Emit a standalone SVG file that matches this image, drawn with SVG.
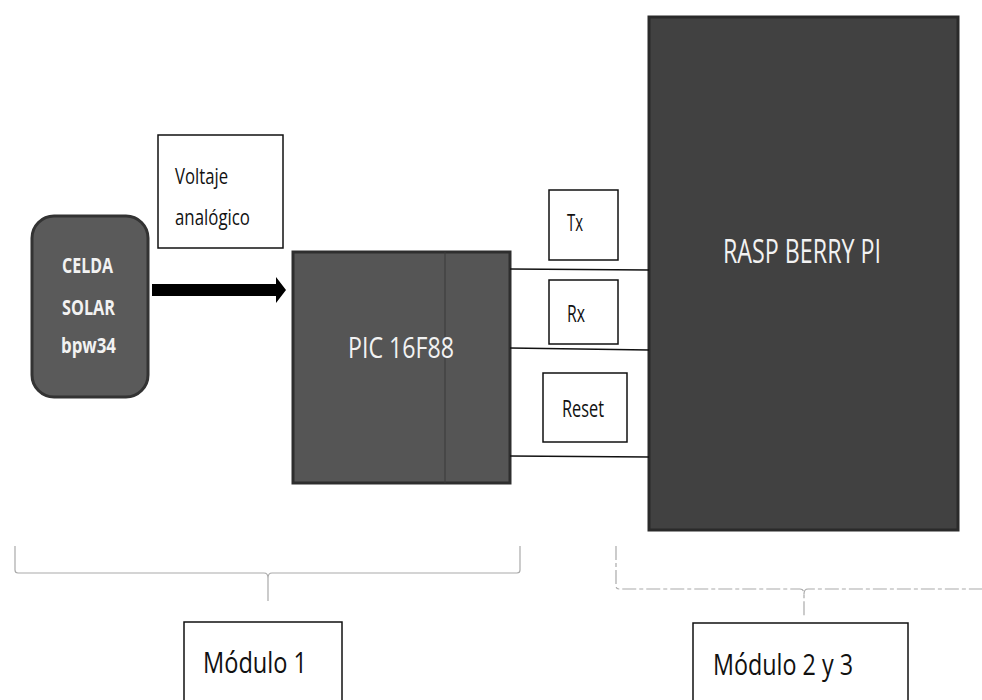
<svg xmlns="http://www.w3.org/2000/svg" width="982" height="700" viewBox="0 0 982 700">
<style>
.lbl{font-family:"Open Sans","Liberation Sans",sans-serif;fill:#111;}
.wt{font-family:"Open Sans","Liberation Sans",sans-serif;fill:#f2f2f2;}
.box{fill:#fff;stroke:#111;stroke-width:1.5;}
.wire{stroke:#111;stroke-width:1.5;fill:none;}
.brace{stroke:#aaa;stroke-width:1.2;fill:none;}
</style>
<rect width="982" height="700" fill="#fff"/>
<g id="celda">
<rect x="32" y="216" width="116" height="181" rx="22" fill="#5a5a5a" stroke="#333" stroke-width="3"/>
<text class="wt" x="62" y="273" font-size="22" font-weight="bold" textLength="51" lengthAdjust="spacingAndGlyphs">CELDA</text>
<text class="wt" x="62" y="315" font-size="22" font-weight="bold" textLength="53" lengthAdjust="spacingAndGlyphs">SOLAR</text>
<text class="wt" x="61" y="353" font-size="22" font-weight="bold" textLength="55" lengthAdjust="spacingAndGlyphs">bpw34</text>
</g>
<g id="voltaje">
<rect class="box" x="158" y="135" width="125" height="113"/>
<text class="lbl" x="175" y="184" font-size="21" textLength="53" lengthAdjust="spacingAndGlyphs">Voltaje</text>
<text class="lbl" x="175" y="225" font-size="21" textLength="75" lengthAdjust="spacingAndGlyphs">analógico</text>
</g>
<g id="pic">
<rect x="293" y="252" width="217" height="231" fill="#555" stroke="#2e2e2e" stroke-width="3"/>
<line x1="445" y1="252" x2="445" y2="483" stroke="#3a3a3a" stroke-width="1"/>
<text class="wt" x="348" y="358" font-size="29" textLength="106" lengthAdjust="spacingAndGlyphs">PIC 16F88</text>
</g>
<g id="raspberry">
<rect x="649" y="17" width="309" height="513" fill="#414141" stroke="#2a2a2a" stroke-width="3"/>
<text class="wt" x="723" y="263" font-size="32" textLength="158" lengthAdjust="spacingAndGlyphs">RASP BERRY PI</text>
</g>
<g id="tx">
<rect class="box" x="549" y="190" width="69" height="70"/>
<text class="lbl" x="567" y="231" font-size="23" textLength="16" lengthAdjust="spacingAndGlyphs">Tx</text>
</g>
<g id="rx">
<rect class="box" x="549" y="280" width="69" height="64"/>
<text class="lbl" x="567" y="322" font-size="23" textLength="18" lengthAdjust="spacingAndGlyphs">Rx</text>
</g>
<g id="reset">
<rect class="box" x="543" y="373" width="84" height="69"/>
<text class="lbl" x="562" y="417" font-size="23" textLength="42" lengthAdjust="spacingAndGlyphs">Reset</text>
</g>
<g id="modulo1">
<rect class="box" x="184" y="622" width="158" height="90"/>
<text class="lbl" x="203" y="673" font-size="30" textLength="104" lengthAdjust="spacingAndGlyphs">Módulo 1</text>
</g>
<g id="modulo23">
<rect class="box" x="693" y="623" width="215" height="90"/>
<text class="lbl" x="713" y="675" font-size="30" textLength="140" lengthAdjust="spacingAndGlyphs">Módulo 2 y 3</text>
</g>
<g id="connectors">
<polygon points="152,284 276,284 276,277 286,290 276,303 276,296 152,296" fill="#000"/>
<line class="wire" x1="510" y1="269" x2="649" y2="270"/>
<line class="wire" x1="510" y1="348" x2="649" y2="350"/>
<line class="wire" x1="510" y1="456" x2="649" y2="457"/>
<path class="brace" d="M15,546 L15,570 Q15,573 18,573 L264,573 Q268,573 268,578 L268,601 M268,578 Q268,573 272,573 L517,573 Q520,573 520,570 L520,546"/>
<path class="brace" stroke-dasharray="14,3,4,3" d="M616,546 L616,586 Q616,589 619,589 L800,589 Q804,589 804,594 L804,617 M804,594 Q804,589 808,589 L982,589"/>
</g>
</svg>
